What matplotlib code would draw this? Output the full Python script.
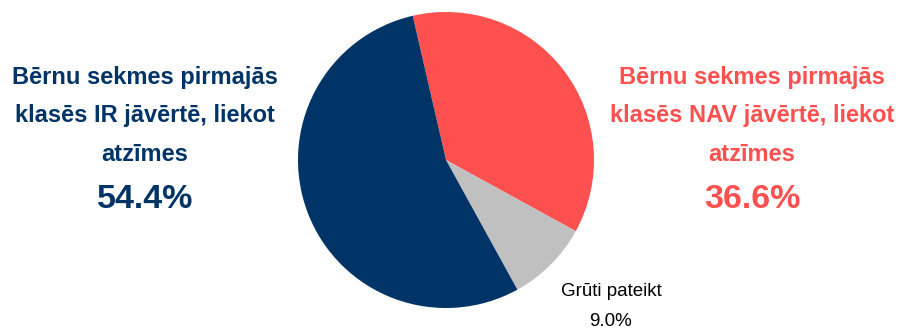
import matplotlib
matplotlib.use("Agg")
import matplotlib.pyplot as plt

W, H = 903, 329

labels = [
    "Bērnu sekmes pirmajās\nklasēs NAV jāvērtē, liekot\natzīmes",
    "Grūti pateikt",
    "Bērnu sekmes pirmajās\nklasēs IR jāvērtē, liekot\natzīmes",
]
values = [36.6, 9.0, 54.4]
colors = ["#FF5050", "#C0C0C0", "#003366"]

FONT = ["Liberation Sans", "DejaVu Sans"]

fig = plt.figure(figsize=(W / 100, H / 100), dpi=100)

cx, cy, r = 446, 160, 148
ax = fig.add_axes([(cx - r) / W, (H - cy - r) / H, 2 * r / W, 2 * r / H])
ax.pie(values, colors=colors, startangle=103, counterclock=False,
       wedgeprops=dict(linewidth=0))
ax.set_xlim(-1, 1)
ax.set_ylim(-1, 1)
ax.axis("off")


def px(x, y):
    return x / W, 1 - y / H


# big labels (red on right, navy on left)
for idx, xc in ((0, 752), (2, 145)):
    x, y = px(xc, 116)
    fig.text(x, y, labels[idx], ha="center", va="center", color=colors[idx],
             fontsize=17, fontweight="bold", family=FONT, linespacing=1.85)
    x, y = px(xc, 199)
    fig.text(x, y, f"{values[idx]:.1f}%", ha="center", va="center",
             color=colors[idx], fontsize=24.5, fontweight="bold", family=FONT)

# small label for the gray slice
x, y = px(611, 306)
fig.text(x, y, f"{labels[1]}\n{values[1]:.1f}%", ha="center", va="center",
         color="black", fontsize=13.5, family=FONT, linespacing=2.0)

fig.savefig("out.png", dpi=100)
